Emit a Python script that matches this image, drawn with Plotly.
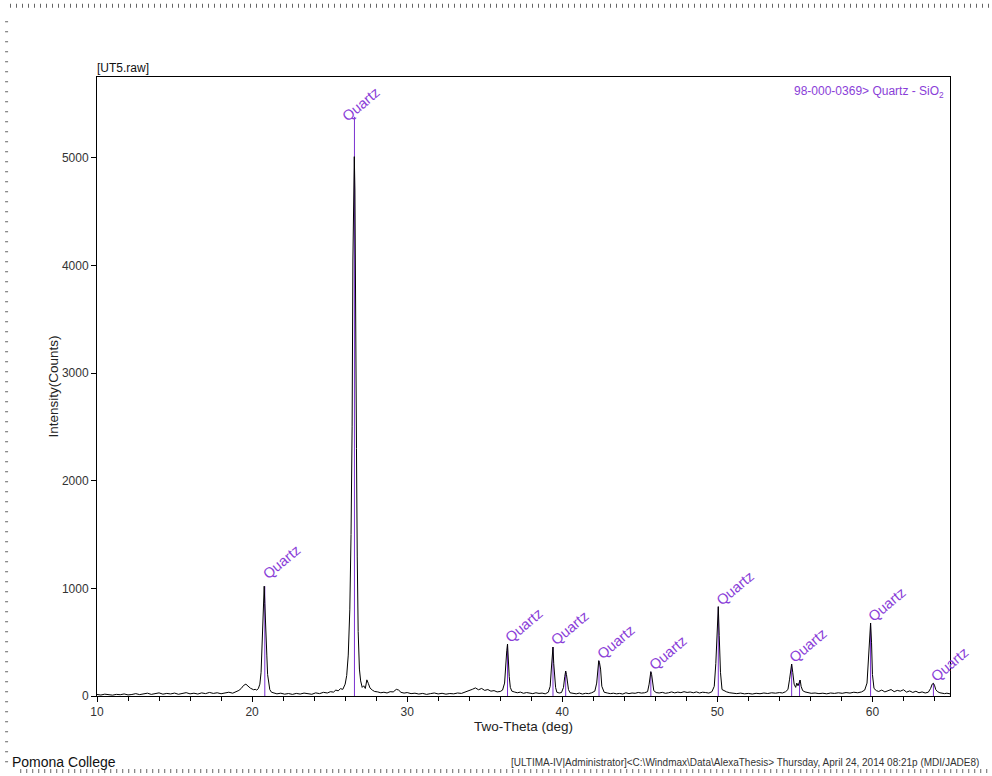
import plotly.graph_objects as go

# ---------------- data ----------------
two_theta = [
    10.0, 10.25, 10.5, 10.75, 11.0, 11.25, 11.5, 11.75, 12.0, 12.25,
    12.5, 12.75, 13.0, 13.25, 13.5, 13.75, 14.0, 14.25, 14.5, 14.75,
    15.0, 15.25, 15.5, 15.75, 16.0, 16.25, 16.5, 16.75, 17.0, 17.25,
    17.5, 17.75, 18.0, 18.25, 18.5, 18.75, 19.0, 19.15, 19.3, 19.45,
    19.6, 19.7, 19.8, 19.9, 20.0, 20.1, 20.2, 20.3, 20.4, 20.5,
    20.58, 20.64, 20.7, 20.74, 20.78, 20.82, 20.86, 20.9, 20.95, 21.0,
    21.06, 21.14, 21.25, 21.4, 21.6, 21.85, 22.1, 22.35, 22.6, 22.85,
    23.1, 23.35, 23.6, 23.85, 24.1, 24.35, 24.6, 24.85, 25.05, 25.25,
    25.4, 25.55, 25.7, 25.85, 26.0, 26.1, 26.2, 26.3, 26.38, 26.45,
    26.5, 26.55, 26.59, 26.63, 26.68, 26.73, 26.78, 26.84, 26.92, 27.0,
    27.1, 27.2, 27.3, 27.4, 27.5, 27.6, 27.75, 27.9, 28.1, 28.3,
    28.5, 28.7, 28.9, 29.1, 29.3, 29.45, 29.6, 29.8, 30.0, 30.25,
    30.5, 30.75, 31.0, 31.25, 31.5, 31.75, 32.0, 32.25, 32.5, 32.75,
    33.0, 33.25, 33.5, 33.75, 34.0, 34.2, 34.4, 34.6, 34.8, 35.0,
    35.2, 35.4, 35.6, 35.8, 36.0, 36.15, 36.28, 36.36, 36.42, 36.47,
    36.52, 36.58, 36.65, 36.75, 36.9, 37.1, 37.3, 37.5, 37.7, 37.9,
    38.1, 38.3, 38.5, 38.7, 38.9, 39.1, 39.22, 39.3, 39.36, 39.4,
    39.45, 39.5, 39.57, 39.65, 39.8, 39.95, 40.08, 40.16, 40.22, 40.27,
    40.33, 40.4, 40.5, 40.7, 40.9, 41.1, 41.3, 41.5, 41.7, 41.9,
    42.1, 42.22, 42.3, 42.35, 42.4, 42.47, 42.55, 42.7, 42.9, 43.1,
    43.3, 43.5, 43.7, 43.9, 44.1, 44.3, 44.5, 44.7, 44.9, 45.1,
    45.3, 45.5, 45.6, 45.66, 45.71, 45.76, 45.82, 45.9, 46.05, 46.25,
    46.45, 46.65, 46.85, 47.05, 47.25, 47.45, 47.65, 47.85, 48.05, 48.25,
    48.45, 48.65, 48.85, 49.05, 49.25, 49.45, 49.65, 49.8, 49.9, 49.97,
    50.02, 50.06, 50.12, 50.2, 50.3, 50.45, 50.6, 50.8, 51.0, 51.25,
    51.5, 51.75, 52.0, 52.25, 52.5, 52.75, 53.0, 53.25, 53.5, 53.75,
    54.0, 54.2, 54.4, 54.55, 54.65, 54.72, 54.79, 54.86, 54.95, 55.05,
    55.12, 55.2, 55.28, 55.34, 55.4, 55.5, 55.65, 55.85, 56.05, 56.3,
    56.55, 56.8, 57.05, 57.3, 57.55, 57.8, 58.05, 58.3, 58.55, 58.8,
    59.05, 59.3, 59.5, 59.65, 59.75, 59.82, 59.88, 59.94, 60.0, 60.1,
    60.25, 60.4, 60.6, 60.8, 61.0, 61.2, 61.4, 61.6, 61.8, 62.0,
    62.2, 62.4, 62.6, 62.8, 63.0, 63.2, 63.4, 63.6, 63.75, 63.85,
    63.93, 64.0, 64.08, 64.2, 64.35, 64.5, 64.65, 64.8, 65.0,
]
counts = [
    14, 9, 17, 11, 8, 15, 12, 19, 10, 14,
    22, 13, 18, 26, 15, 21, 29, 17, 24, 19,
    27, 16, 23, 31, 20, 26, 18, 29, 22, 33,
    24, 30, 21, 28, 35, 26, 38, 52, 70, 98,
    110, 92, 84, 72, 64, 58, 62, 55, 68, 110,
    220, 480, 640, 820, 1020, 860, 640, 600, 380, 200,
    110, 60, 35, 28, 20, 26, 17, 23, 15, 24,
    18, 27, 21, 16, 29, 22, 34, 28, 40, 36,
    55, 48, 68, 62, 110, 190, 380, 800, 1500, 2500,
    4050, 4900, 5010, 4700, 2500, 2300, 1300, 600, 250, 140,
    80, 95, 70, 150, 115, 75, 55, 42, 38, 30,
    35, 28, 40, 38, 62, 55, 34, 27, 32, 22,
    26, 18, 24, 15, 22, 28, 19, 25, 17, 23,
    20, 28, 24, 35, 48, 62, 75, 58, 70, 52,
    60, 45, 50, 38, 42, 55, 120, 330, 420, 483,
    300, 180, 80, 45, 38, 30, 36, 25, 32, 28,
    22, 30, 24, 27, 20, 35, 90, 260, 420, 455,
    300, 220, 80, 35, 28, 32, 80, 180, 232, 200,
    150, 60, 30, 24, 20, 27, 18, 25, 22, 30,
    45, 120, 290, 328, 310, 250, 90, 35, 28, 22,
    26, 20, 24, 18, 30, 22, 28, 25, 33, 27,
    30, 40, 110, 200, 226, 200, 130, 50, 32, 28,
    34, 25, 30, 38, 29, 36, 31, 40, 33, 37,
    30, 38, 28, 35, 32, 27, 40, 90, 300, 600,
    800, 830, 560, 220, 60, 45, 38, 30, 26, 22,
    27, 20, 24, 18, 25, 21, 28, 23, 30, 26,
    32, 28, 40, 60, 150, 260, 297, 220, 110, 80,
    120, 95, 130, 148, 90, 50, 38, 30, 25, 28,
    22, 26, 20, 28, 24, 30, 25, 32, 27, 35,
    30, 38, 55, 120, 400, 620, 678, 500, 200, 70,
    50, 42, 55, 38, 48, 60, 40, 52, 45, 58,
    36, 47, 33, 44, 30, 38, 28, 35, 70, 110,
    118, 100, 60, 40, 30, 25, 22, 26, 20,
]

# Quartz reference lines (sticks)
stick_pos = [20.82, 26.60, 36.47, 39.40, 40.22, 42.37, 45.71, 50.06, 54.79, 55.30, 59.88, 63.93]
stick_height = [1020, 5380, 483, 455, 232, 328, 226, 830, 297, 148, 678, 118]
# labelled sticks
label_pos = [20.82, 26.60, 36.47, 39.40, 42.37, 45.71, 50.06, 54.79, 59.88, 63.93]
label_height = [1020, 5380, 483, 455, 328, 226, 830, 297, 678, 118]
label_text = "Quartz"

x_ticks = [10, 20, 30, 40, 50, 60]
y_ticks = [0, 1000, 2000, 3000, 4000, 5000]

FONT = "Liberation Sans, Arial, sans-serif"
PURPLE = "#8a3ed8"
STICK = "#7a30d0"

# label pixel nudges (style only)
label_dx = [-8, -18, -8, -8, -8, -8, -8, -8, -8, -8]
label_dy = [1, -10, -4, -4, -4, -4, -4, -4, -4, -4]

fig = go.Figure()

sx, sy = [], []
for p, h in zip(stick_pos, stick_height):
    sx += [p, p, None]
    sy += [0, h, None]
fig.add_trace(go.Scatter(x=sx, y=sy, mode="lines",
                         line=dict(color=STICK, width=1), hoverinfo="skip"))
fig.add_trace(go.Scatter(x=two_theta, y=counts, mode="lines",
                         line=dict(color="black", width=1), hoverinfo="skip"))

annotations = []
for p, h, dx, dy in zip(label_pos, label_height, label_dx, label_dy):
    annotations.append(dict(x=p, y=h, xref="x", yref="y", text=label_text,
                            showarrow=False, textangle=-40,
                            xanchor="left", yanchor="bottom",
                            xshift=dx, yshift=dy,
                            font=dict(family=FONT, size=14.5, color=PURPLE)))

annotations.append(dict(x=0, y=1, xref="paper", yref="paper", text="[UT5.raw]",
                        showarrow=False, xanchor="left", yanchor="bottom",
                        xshift=-2,
                        font=dict(family=FONT, size=12, color="#111")))
annotations.append(dict(x=0.995, y=0.976, xref="paper", yref="paper",
                        text="98-000-0369&gt; Quartz - SiO<sub>2</sub>",
                        showarrow=False, xanchor="right", yanchor="middle",
                        font=dict(family=FONT, size=12, color=PURPLE)))
annotations.append(dict(x=-0.102, y=-0.107, xref="paper", yref="paper",
                        text="Pomona College", showarrow=False,
                        xanchor="left", yanchor="middle",
                        font=dict(family=FONT, size=14, color="#111")))
annotations.append(dict(x=1.036, y=-0.107, xref="paper", yref="paper",
                        text="[ULTIMA-IV|Administrator]&lt;C:\\Windmax\\Data\\AlexaThesis&gt; Thursday, April 24, 2014 08:21p (MDI/JADE8)",
                        showarrow=False, xanchor="right", yanchor="middle",
                        font=dict(family=FONT, size=10, color="#333")))

# decorative page-ruler border (dotted)
shapes = [
    dict(type="line", xref="paper", yref="paper", x0=-0.102, x1=1.048, y0=1.115, y1=1.115,
         line=dict(color="#666", width=4, dash="1px,5px")),
    dict(type="line", xref="paper", yref="paper", x0=-0.106, x1=-0.106, y0=1.09, y1=-0.11,
         line=dict(color="#666", width=3, dash="1px,9px")),
    dict(type="line", xref="paper", yref="paper", x0=-0.09, x1=1.048, y0=-0.121, y1=-0.121,
         line=dict(color="#666", width=4, dash="1px,5px")),
]

fig.update_layout(
    width=992, height=776,
    margin=dict(l=97, r=42, t=77, b=80),
    plot_bgcolor="white", paper_bgcolor="white",
    showlegend=False,
    font=dict(family=FONT, color="#222"),
    annotations=annotations,
    shapes=shapes,
    xaxis=dict(range=[10, 65], tickvals=x_ticks, ticks="outside", ticklen=5,
               tickcolor="black", showgrid=False, zeroline=False,
               showline=True, mirror=True, linecolor="black", linewidth=1,
               tickfont=dict(family=FONT, size=12, color="#333"),
               minor=dict(dtick=2, tick0=10, ticks="outside", ticklen=4, tickcolor="black"),
               title=dict(text="Two-Theta (deg)", font=dict(family=FONT, size=13.5, color="#222"),
                          standoff=1)),
    yaxis=dict(range=[0, 5750], tickvals=y_ticks, ticks="outside", ticklen=5,
               tickcolor="black", showgrid=False, zeroline=False,
               showline=True, mirror=True, linecolor="black", linewidth=1,
               tickfont=dict(family=FONT, size=12, color="#333"),
               title=dict(text="Intensity(Counts)", font=dict(family=FONT, size=13.5, color="#222"),
                          standoff=0)),
)

fig.write_html("out.html", config={"displayModeBar": False},
               post_script="document.body.style.margin='0';document.body.style.overflow='hidden';")
